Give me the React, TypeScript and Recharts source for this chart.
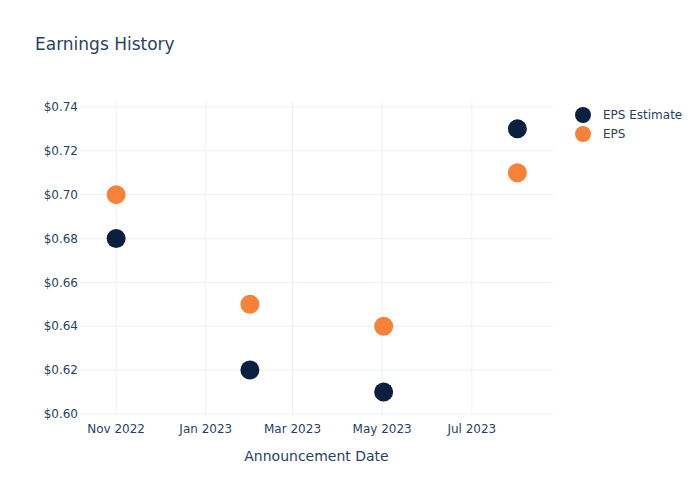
import React from "react";
import { ScatterChart, Scatter, XAxis, YAxis, CartesianGrid, Label } from "recharts";

const dates = ["2022-11-01", "2023-01-31", "2023-05-02", "2023-08-01"];
const epsEstimate = [0.68, 0.62, 0.61, 0.73];
const eps = [0.7, 0.65, 0.64, 0.71];

const xTicks = ["2022-11-01", "2023-01-01", "2023-03-01", "2023-05-01", "2023-07-01"];
const yTicks = [0.6, 0.62, 0.64, 0.66, 0.68, 0.7, 0.72, 0.74];
const monthNames = ["Jan", "Feb", "Mar", "Apr", "May", "Jun", "Jul", "Aug", "Sep", "Oct", "Nov", "Dec"];

const NAVY = "#0b1f3f";
const ORANGE = "#f6823a";
const TEXT = "#2a3f5f";
const GRID = "#ebf0f8";
const FONT = "'DejaVu Sans', 'Open Sans', sans-serif";

const toTs = (d: string) => Date.parse(d + "T00:00:00Z");

const X_DOMAIN: [number, number] = [Date.UTC(2022, 9, 7, 10), Date.UTC(2023, 7, 25, 5)];
const Y_DOMAIN: [number, number] = [0.5995, 0.7427];

const estimateData = dates.map((d, i) => ({ x: toTs(d), y: epsEstimate[i] }));
const epsData = dates.map((d, i) => ({ x: toTs(d), y: eps[i] }));

const formatDate = (ts: number) => {
  const d = new Date(ts);
  return `${monthNames[d.getUTCMonth()]} ${d.getUTCFullYear()}`;
};

const dot = (color: string) => (props: any) => (
  <circle cx={props.cx} cy={props.cy} r={9.5} fill={color} />
);

const legendItems = [
  { name: "EPS Estimate", color: NAVY },
  { name: "EPS", color: ORANGE },
];

// grid lines only at the tick values (no lines on the plot edges)
const hLines = ({ offset }: any) =>
  yTicks.map((t) => offset.top + (offset.height * (Y_DOMAIN[1] - t)) / (Y_DOMAIN[1] - Y_DOMAIN[0]));
const vLines = ({ offset }: any) =>
  xTicks.map((t) => offset.left + (offset.width * (toTs(t) - X_DOMAIN[0])) / (X_DOMAIN[1] - X_DOMAIN[0]));

export default function App() {
  return (
    <div style={{ position: "absolute", left: 0, top: 0, width: 700, height: 500, background: "#fff" }}>
      <div
        style={{
          position: "absolute",
          left: 35,
          top: 34,
          fontFamily: FONT,
          fontSize: 17,
          color: TEXT,
        }}
      >
        Earnings History
      </div>
      <div
        style={{
          position: "absolute",
          left: 575,
          top: 105,
          fontFamily: FONT,
          fontSize: 12,
          color: TEXT,
        }}
      >
        {legendItems.map((it) => (
          <div key={it.name} style={{ display: "flex", alignItems: "center", height: 19 }}>
            <span
              style={{
                width: 16,
                height: 16,
                borderRadius: "50%",
                background: it.color,
                display: "inline-block",
                marginRight: 12,
              }}
            />
            <span>{it.name}</span>
          </div>
        ))}
      </div>
      <ScatterChart width={700} height={500} margin={{ top: 101, right: 147, bottom: 55, left: 0 }}>
        <CartesianGrid
          stroke={GRID}
          strokeWidth={1}
          horizontalCoordinatesGenerator={hLines}
          verticalCoordinatesGenerator={vLines}
        />
        <XAxis
          type="number"
          dataKey="x"
          domain={X_DOMAIN}
          ticks={xTicks.map(toTs)}
          tickFormatter={formatDate}
          allowDataOverflow
          axisLine={false}
          tickLine={false}
          tickSize={0}
          tickMargin={9}
          height={30}
          tick={{ fill: TEXT, fontSize: 12, fontFamily: FONT }}
        >
          <Label
            value="Announcement Date"
            position="bottom"
            offset={6}
            style={{ fill: TEXT, fontSize: 14, fontFamily: FONT }}
          />
        </XAxis>
        <YAxis
          type="number"
          dataKey="y"
          domain={Y_DOMAIN}
          ticks={yTicks}
          allowDataOverflow
          tickFormatter={(v: number) => `$${v.toFixed(2)}`}
          axisLine={false}
          tickLine={false}
          tickSize={0}
          tickMargin={2}
          width={80}
          tick={{ fill: TEXT, fontSize: 12, fontFamily: FONT }}
        />
        <Scatter
          name="EPS Estimate"
          data={estimateData}
          fill={NAVY}
          shape={dot(NAVY)}
          isAnimationActive={false}
        />
        <Scatter name="EPS" data={epsData} fill={ORANGE} shape={dot(ORANGE)} isAnimationActive={false} />
      </ScatterChart>
    </div>
  );
}
